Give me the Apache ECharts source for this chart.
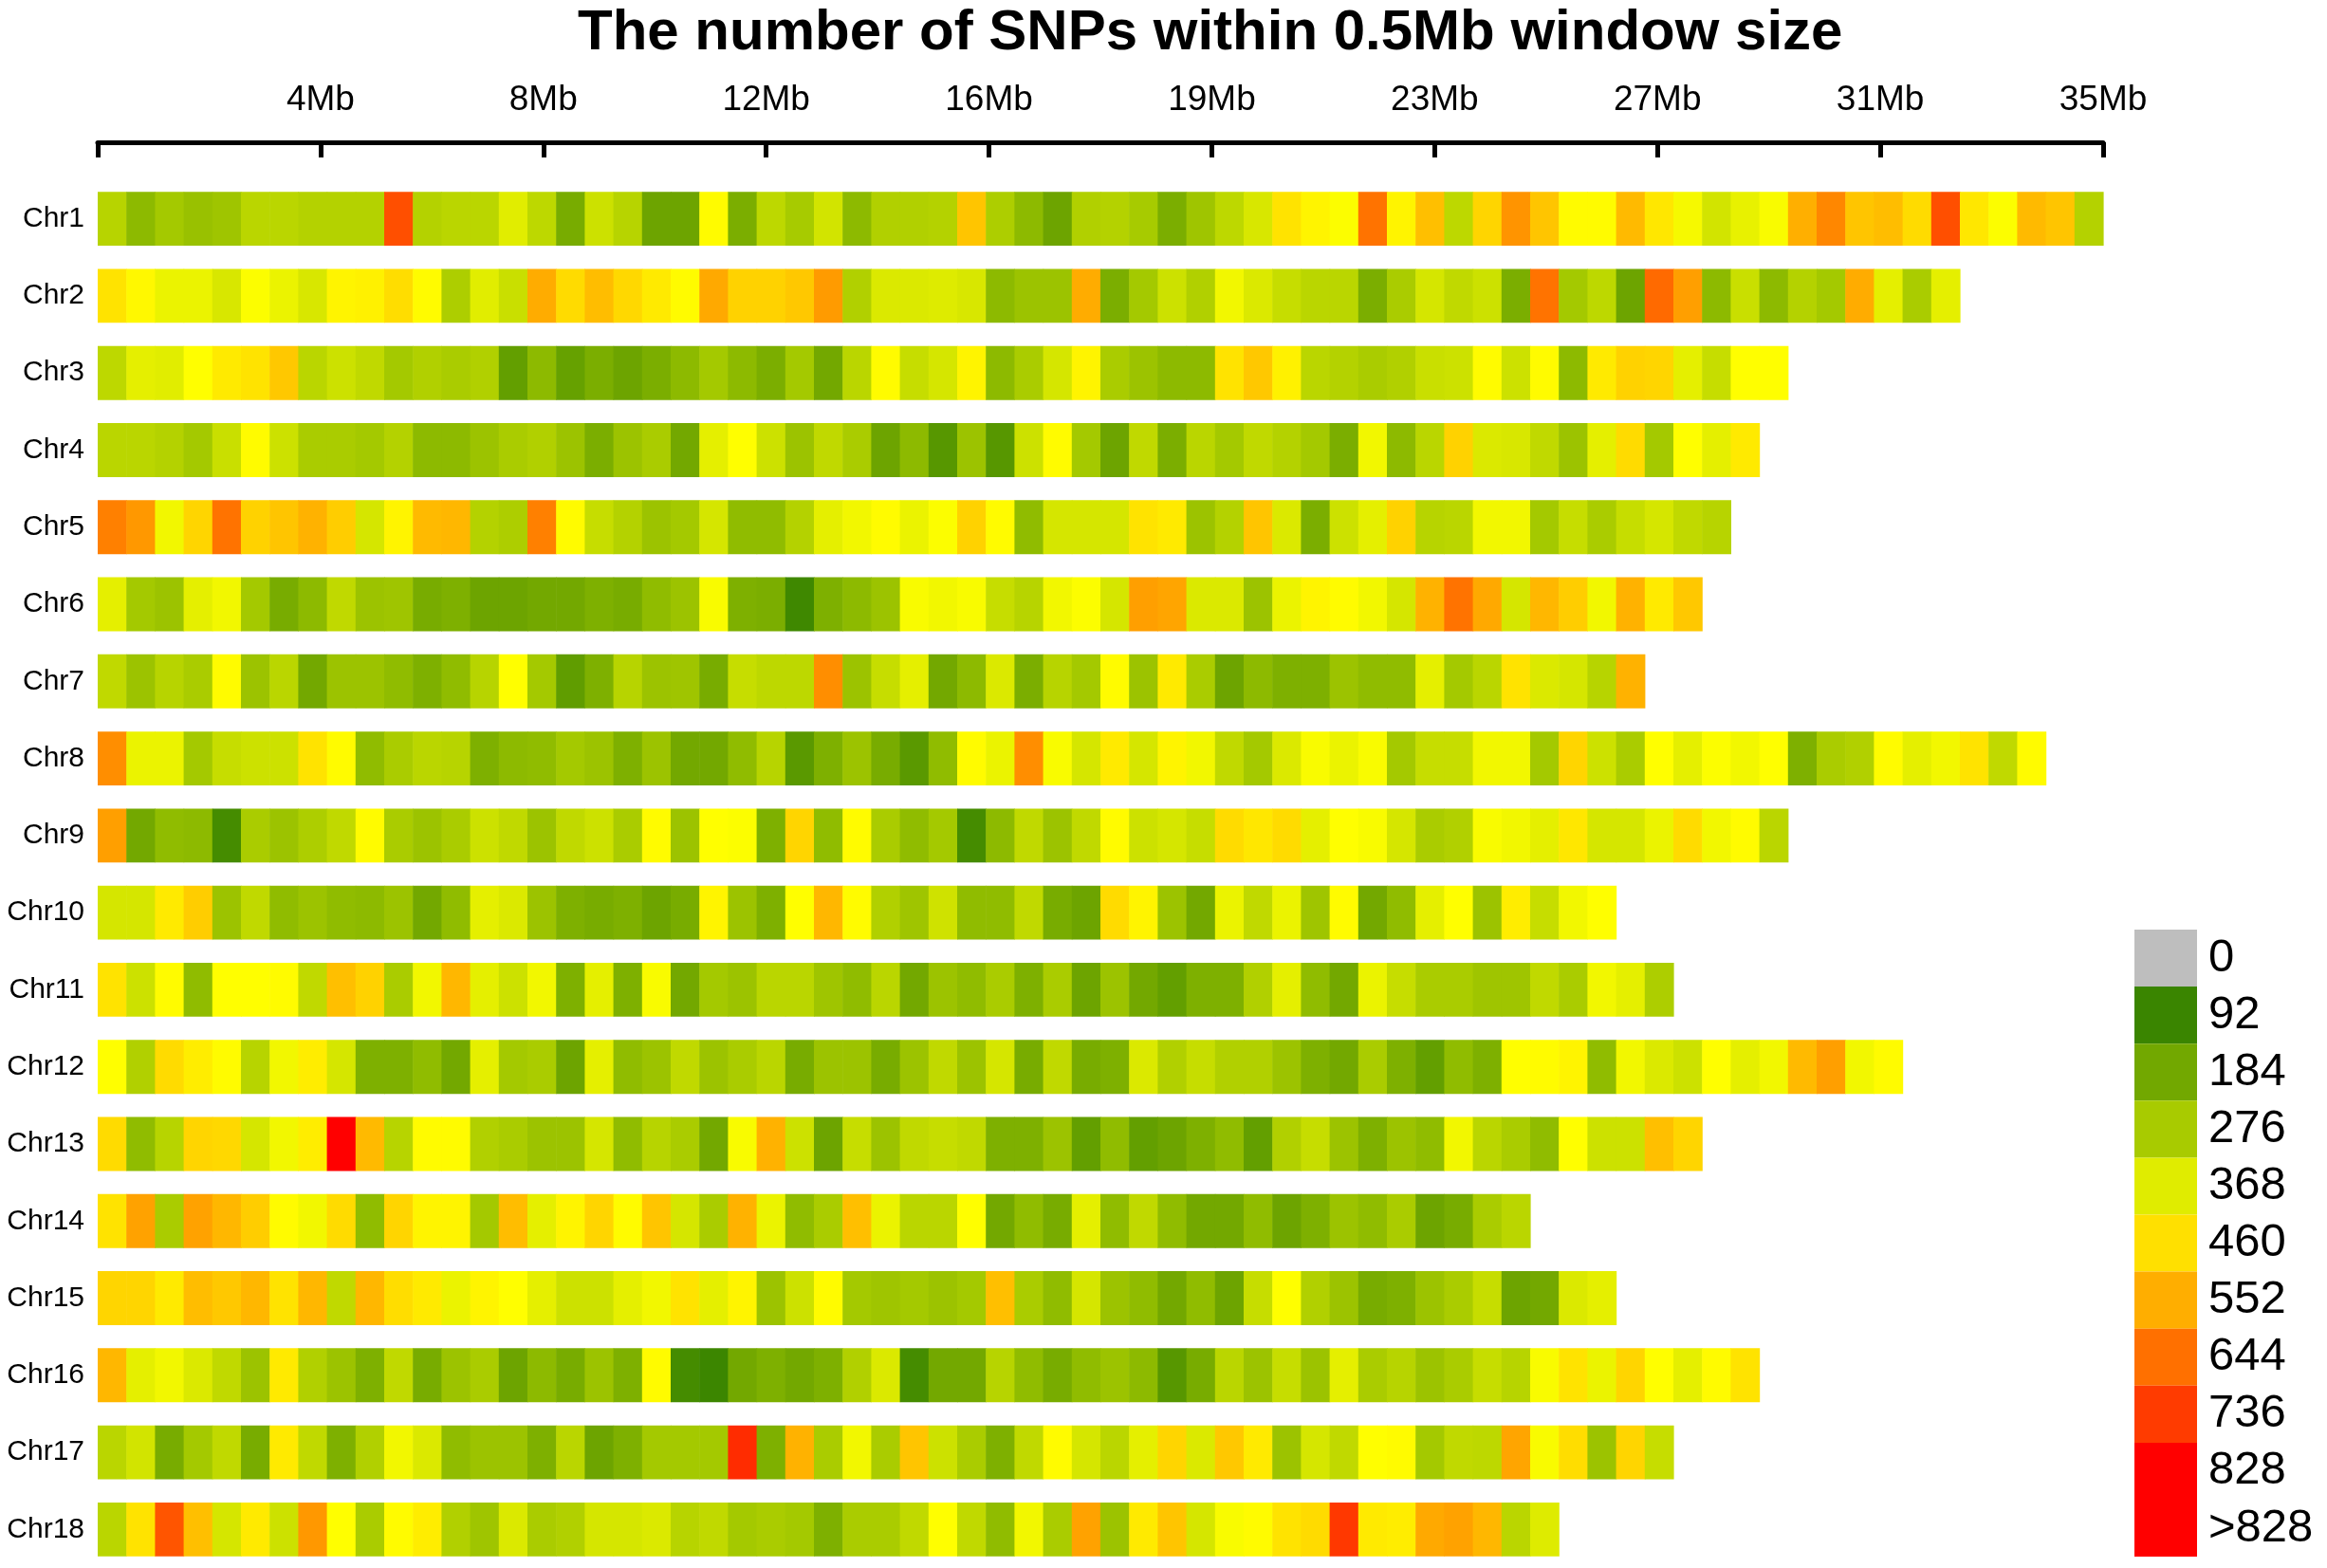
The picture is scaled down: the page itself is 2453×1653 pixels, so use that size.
<!DOCTYPE html>
<html>
<head>
<meta charset="utf-8">
<title>SNP density</title>
<script src="https://cdn.jsdelivr.net/npm/echarts@6/dist/echarts.min.js"></script>
<style>
  html, body { margin: 0; padding: 0; background: #fff; }
  #chart { width: 2453px; height: 1653px; }
</style>
</head>
<body>
<div id="chart"></div>
<script>
// SNP counts per 0.5Mb window (colour -> count)
var binMb = 0.5;
var maxMb = 35;
var chrNames = ['Chr1','Chr2','Chr3','Chr4','Chr5','Chr6','Chr7','Chr8','Chr9',
                'Chr10','Chr11','Chr12','Chr13','Chr14','Chr15','Chr16','Chr17','Chr18'];
var tickLabels = ['4Mb','8Mb','12Mb','16Mb','19Mb','23Mb','27Mb','31Mb','35Mb'];

var chr1 = [300,230,270,250,260,305,305,295,295,295,700,295,305,305,370,310,195,335,300,175,175,420,200,310,275,345,230,290,290,295,510,285,230,175,290,
            295,275,200,260,310,355,455,430,410,640,430,520,310,480,590,510,420,420,530,450,400,345,380,405,550,610,510,525,470,700,450,410,530,510,295];
var chr2 = [455,425,385,385,355,410,385,355,430,435,465,420,285,370,330,555,470,525,475,445,420,560,485,485,505,580,290,360,360,365,355,230,255,255,555,
            200,270,335,290,395,360,325,305,305,200,280,350,315,335,200,640,270,310,175,655,575,230,330,230,295,270,555,375,280,375];
var chr3 = [310,375,370,415,445,455,505,305,335,315,270,290,280,290,160,230,165,200,175,200,230,270,230,200,270,185,305,420,325,350,430,230,280,350,430,
            280,255,230,230,455,505,435,305,295,280,290,330,335,420,335,420,230,445,485,480,375,325,415,415];
var chr4 = [305,305,295,270,330,420,335,280,280,270,295,230,230,255,280,290,255,200,255,280,185,375,415,335,255,315,280,175,230,140,255,140,335,420,270,
            175,315,200,305,270,315,295,270,200,395,230,305,485,360,355,315,255,375,470,270,415,375,445];
var chr5 = [620,585,395,480,640,485,510,545,495,350,430,530,535,295,285,620,420,325,295,255,270,350,235,235,295,375,395,420,385,410,485,420,235,350,350,
            350,455,445,255,295,510,360,200,335,375,485,300,305,395,395,270,325,280,325,350,315,300];
var chr6 = [375,270,255,375,395,270,195,230,315,255,260,195,205,175,175,185,185,205,195,235,255,405,205,200,100,205,230,255,405,395,405,325,300,395,410,
            350,575,565,360,360,255,385,430,420,395,350,545,640,560,350,535,495,395,545,445,505];
var chr7 = [315,255,300,280,420,255,305,185,255,255,235,205,235,300,415,270,155,205,300,255,260,195,325,310,310,600,255,325,375,185,230,360,200,300,270,
            420,255,445,280,175,230,205,205,255,235,235,375,270,305,455,360,350,300,545];
var chr8 = [600,385,385,270,325,335,335,455,420,235,280,305,300,205,230,235,270,255,205,255,185,185,235,300,145,205,255,195,145,235,420,385,600,405,350,
            445,350,430,395,315,270,360,405,385,405,270,325,325,395,395,270,480,335,280,415,375,410,395,415,205,280,290,420,375,395,455,315,420];
var chr9 = [575,185,235,230,110,280,255,285,315,420,280,255,280,335,315,255,315,335,280,420,255,415,410,205,480,235,420,280,235,270,110,230,315,255,315,
            420,335,350,325,470,450,470,375,415,405,350,280,290,405,395,375,450,350,350,385,470,395,420,305];
var chr10 = [350,350,445,495,255,315,235,255,235,230,255,185,235,375,360,255,205,195,205,175,195,430,255,205,415,535,420,290,260,340,235,235,315,195,175,
             470,430,255,185,385,315,385,260,420,185,235,375,415,255,440,325,395,415];
var chr11 = [455,335,420,235,415,415,420,315,520,485,280,395,535,375,335,395,205,375,205,405,185,270,255,305,305,260,235,305,185,255,235,280,205,280,175,
             255,185,160,205,205,290,375,235,185,385,325,280,280,260,260,315,280,395,375,285];
var chr12 = [415,290,470,440,420,300,395,440,350,205,205,235,185,375,270,280,175,375,235,255,315,255,280,305,195,255,255,195,255,315,255,350,195,315,195,
             205,360,290,325,290,290,255,205,185,280,205,160,235,205,415,420,430,235,395,360,335,415,375,395,530,575,395,420];
var chr13 = [470,235,300,480,475,350,395,440,850,530,300,420,420,290,280,255,255,350,235,300,280,185,405,545,335,175,325,255,315,325,315,205,205,255,160,
             235,160,175,205,235,160,290,325,255,205,255,235,395,305,280,235,415,335,335,520,480];
var chr14 = [455,570,280,570,535,495,420,395,470,235,480,430,430,270,525,375,430,480,420,510,350,280,545,385,235,280,520,385,305,305,415,185,235,195,375,
             235,315,235,185,185,235,175,205,255,235,280,175,195,280,305];
var chr15 = [480,480,445,525,505,535,455,535,315,535,465,445,385,430,415,375,335,335,375,395,455,375,430,255,335,420,270,260,270,255,270,520,280,235,350,
             255,235,185,235,175,325,415,290,255,195,205,255,280,325,175,185,360,375];
var chr16 = [535,375,395,360,315,255,445,290,255,205,315,195,255,280,175,230,195,255,205,420,110,95,185,205,185,205,290,360,110,185,185,300,235,195,235,
             255,230,140,195,305,255,325,255,375,280,300,255,280,325,300,405,455,385,480,415,375,420,455];
var chr17 = [305,345,195,270,315,195,445,315,205,290,395,360,235,255,255,205,305,175,205,270,270,270,760,205,545,280,395,280,510,335,280,205,315,420,350,
             305,375,480,360,505,445,255,350,315,415,420,270,315,310,565,405,465,255,480,325];
var chr18 = [305,455,690,520,350,445,335,585,415,280,420,440,290,260,360,280,290,350,350,360,300,315,270,280,270,205,280,280,315,415,315,235,395,280,570,
             255,445,510,350,405,420,455,470,740,445,440,560,570,535,305,365];

var chrValues = [chr1, chr2, chr3, chr4, chr5, chr6, chr7, chr8, chr9,
                 chr10, chr11, chr12, chr13, chr14, chr15, chr16, chr17, chr18];

// colour ramp, one stop every 46 SNPs from 92 to 828
var rampColors = ['#3A8500','#569600','#72A800','#8DBA00','#A8CB00','#C4DC00','#E0EC00','#FFFF00',
                  '#FFE000','#FFC700','#FFAE00','#FF8F00','#FF7000','#FF5500','#FF3B00','#FF1E00','#FF0000'];

var cells = [];
chrValues.forEach(function (vals, i) {
  vals.forEach(function (v, j) {
    cells.push([j * binMb, i, v]);
  });
});

var tickPos = [];
for (var k = 0; k <= tickLabels.length; k++) tickPos.push(k * maxMb / tickLabels.length);

function renderBin(params, api) {
  var p0 = api.coord([api.value(0), api.value(1)]);
  var p1 = api.coord([api.value(0) + binMb, api.value(1)]);
  var h = api.size([0, 1])[1] * 0.70;
  return {
    type: 'rect',
    shape: { x: p0[0], y: p0[1] - h / 2, width: p1[0] - p0[0] + 0.6, height: h },
    style: { fill: api.visual('color') }
  };
}

var chart = echarts.init(document.getElementById('chart'));
chart.setOption({
  backgroundColor: '#fff',
  animation: false,
  textStyle: { fontFamily: 'Liberation Sans, Arial, sans-serif' },
  title: {
    text: 'The number of SNPs within 0.5Mb window size',
    left: 604,
    top: 0,
    textStyle: { fontSize: 60, fontWeight: 'bold', color: '#000', fontFamily: 'Liberation Sans, Arial, sans-serif' }
  },
  grid: { left: 103, top: 190, width: 2114, height: 1470 },
  xAxis: {
    type: 'value',
    position: 'top',
    min: 0,
    max: maxMb,
    offset: 40,
    axisLine: { show: true, lineStyle: { color: '#000', width: 5 } },
    axisTick: { show: true, inside: true, length: 16, customValues: tickPos,
                lineStyle: { color: '#000', width: 5 } },
    axisLabel: {
      customValues: tickPos.slice(1),
      formatter: function (v) { return tickLabels[Math.round(v * tickLabels.length / maxMb) - 1]; },
      fontSize: 37, color: '#000', margin: 26
    },
    splitLine: { show: false }
  },
  yAxis: {
    type: 'category',
    inverse: true,
    data: chrNames,
    axisLine: { show: false },
    axisTick: { show: false },
    axisLabel: { fontSize: 30, color: '#000', margin: 14 },
    splitLine: { show: false }
  },
  visualMap: [
    {
      type: 'continuous',
      show: false,
      seriesIndex: 0,
      dimension: 2,
      min: 92,
      max: 828,
      inRange: { color: rampColors }
    },
    {
      type: 'piecewise',
      seriesIndex: 1,
      orient: 'vertical',
      inverse: true,
      align: 'left',
      left: 2250,
      top: 980,
      padding: 0,
      itemWidth: 66,
      itemHeight: 60.1,
      itemGap: 0,
      itemSymbol: 'rect',
      textGap: 12,
      textStyle: { fontSize: 49, color: '#000' },
      pieces: [
        { value: 0, label: '0', color: '#BEBEBE' },
        { gt: 0, lte: 92, label: '92', color: '#3A8500' },
        { gt: 92, lte: 184, label: '184', color: '#72A800' },
        { gt: 184, lte: 276, label: '276', color: '#A8CB00' },
        { gt: 276, lte: 368, label: '368', color: '#E0EC00' },
        { gt: 368, lte: 460, label: '460', color: '#FFE000' },
        { gt: 460, lte: 552, label: '552', color: '#FFAE00' },
        { gt: 552, lte: 644, label: '644', color: '#FF7000' },
        { gt: 644, lte: 736, label: '736', color: '#FF3B00' },
        { gt: 736, lte: 828, label: '828', color: '#FF0000' },
        { gt: 828, label: '>828', color: '#FF0000' }
      ]
    }
  ],
  series: [
    {
      type: 'custom',
      renderItem: renderBin,
      encode: { x: 0, y: 1 },
      data: cells
    },
    {
      type: 'custom',
      renderItem: function () { return null; },
      data: []
    }
  ]
});
</script>
</body>
</html>
